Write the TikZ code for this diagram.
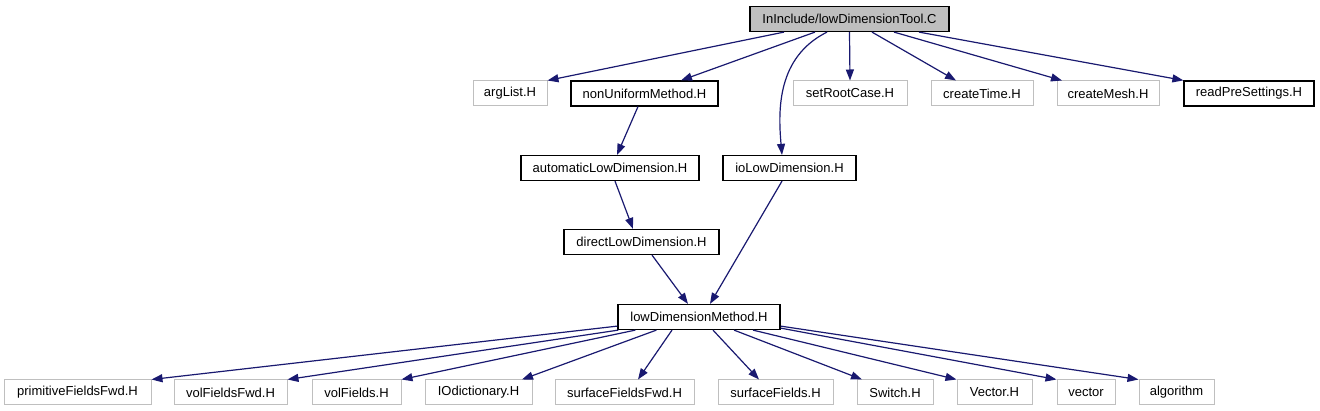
\documentclass[tikz,border=0pt]{standalone}
\usepackage{fontspec}
\setmainfont{Liberation Sans}
\usetikzlibrary{arrows.meta}
\definecolor{edgec}{HTML}{191970}
\definecolor{grayb}{HTML}{BFBFBF}
\begin{document}
\begin{tikzpicture}[x=1pt,y=-1pt,
  box/.style={draw=black, line width=1.2pt, fill=white, minimum height=25pt, inner sep=0pt, font=\fontsize{13}{15}\selectfont},
  gbox/.style={box, draw=grayb, line width=1pt},
  dep/.style={draw=edgec, line width=1.2pt, -{Triangle[length=11pt,width=8pt]}}]
\useasboundingbox[fill=white] (0,0) rectangle (1320,411);
% nodes
\node[box, fill=grayb, minimum width=199pt] (top) at (849.5,19) {InInclude/lowDimensionTool.C};
\node[gbox, minimum width=74pt] (arg) at (510,93.5) {argList.H};
\node[box, minimum width=147pt] (nonu) at (644.5,93.5) {nonUniformMethod.H};
\node[gbox, minimum width=114pt] (root) at (850,93.5) {setRootCase.H};
\node[gbox, minimum width=102pt] (ctime) at (982,93.5) {createTime.H};
\node[gbox, minimum width=102pt] (cmesh) at (1108,93.5) {createMesh.H};
\node[box, minimum width=130pt] (rps) at (1249,93.5) {readPreSettings.H};
\node[box, minimum width=178pt] (auto) at (610,168) {automaticLowDimension.H};
\node[box, minimum width=133pt] (io) at (789.5,168) {ioLowDimension.H};
\node[box, minimum width=155pt] (direct) at (641.5,242) {directLowDimension.H};
\node[box, minimum width=162pt] (ldm) at (699,317) {lowDimensionMethod.H};
\node[gbox, minimum width=147pt] (prim) at (77.5,392.5) {primitiveFieldsFwd.H};
\node[gbox, minimum width=113pt] (vfwd) at (230.5,392.5) {volFieldsFwd.H};
\node[gbox, minimum width=89pt] (vf) at (356.5,392.5) {volFields.H};
\node[gbox, minimum width=107pt] (iod) at (478.5,392.5) {IOdictionary.H};
\node[gbox, minimum width=139pt] (sfwd) at (624.5,392.5) {surfaceFieldsFwd.H};
\node[gbox, minimum width=115pt] (sf) at (775.5,392.5) {surfaceFields.H};
\node[gbox, minimum width=76pt] (sw) at (895,392.5) {Switch.H};
\node[gbox, minimum width=75pt] (Vec) at (994.5,392.5) {Vector.H};
\node[gbox, minimum width=58pt] (vec) at (1086,392.5) {vector};
\node[gbox, minimum width=75pt] (alg) at (1176.5,392.5) {algorithm};
% edges from top
\draw[dep] ([xshift=-65.5pt]top.south) -- (arg.north east);
\draw[dep] ([xshift=-34.5pt]top.south) -- ([xshift=36.5pt]nonu.north);
\draw[dep] ([xshift=-22.5pt]top.south) .. controls +(-50pt,-25pt) and +(-4pt,45pt) .. ([xshift=-7.5pt]io.north);
\draw[dep] (top.south) -- (root.north);
\draw[dep] ([xshift=22.5pt]top.south) -- ([xshift=-26pt]ctime.north);
\draw[dep] ([xshift=44.5pt]top.south) -- ([xshift=-46pt]cmesh.north);
\draw[dep] ([xshift=69.5pt]top.south) -- (rps.north west);
% middle
\draw[dep] ([xshift=-6.5pt]nonu.south) -- ([xshift=7pt]auto.north);
\draw[dep] ([xshift=5pt]auto.south) -- ([xshift=-8.5pt]direct.north);
\draw[dep] ([xshift=10.5pt]direct.south) -- ([xshift=-11pt]ldm.north);
\draw[dep] ([xshift=-7.5pt]io.south) -- ([xshift=11pt]ldm.north);
% bottom
\draw[dep] ([yshift=4pt]ldm.south west) -- (prim.north east);
\draw[dep] ([xshift=1pt]ldm.south west) -- (vfwd.north east);
\draw[dep] ([xshift=18pt]ldm.south west) -- (vf.north east);
\draw[dep] ([xshift=39pt]ldm.south west) -- ([xshift=43.5pt]iod.north);
\draw[dep] ([xshift=-27pt]ldm.south) -- ([xshift=13.5pt]sfwd.north);
\draw[dep] ([xshift=14pt]ldm.south) -- ([xshift=-16.5pt]sf.north);
\draw[dep] ([xshift=35pt]ldm.south) -- ([xshift=-33pt]sw.north);
\draw[dep] ([xshift=54pt]ldm.south) -- (Vec.north west);
\draw[dep] ([yshift=2pt]ldm.south east) -- (vec.north west);
\draw[dep] ([yshift=4pt]ldm.south east) -- (alg.north west);
\end{tikzpicture}
\end{document}
